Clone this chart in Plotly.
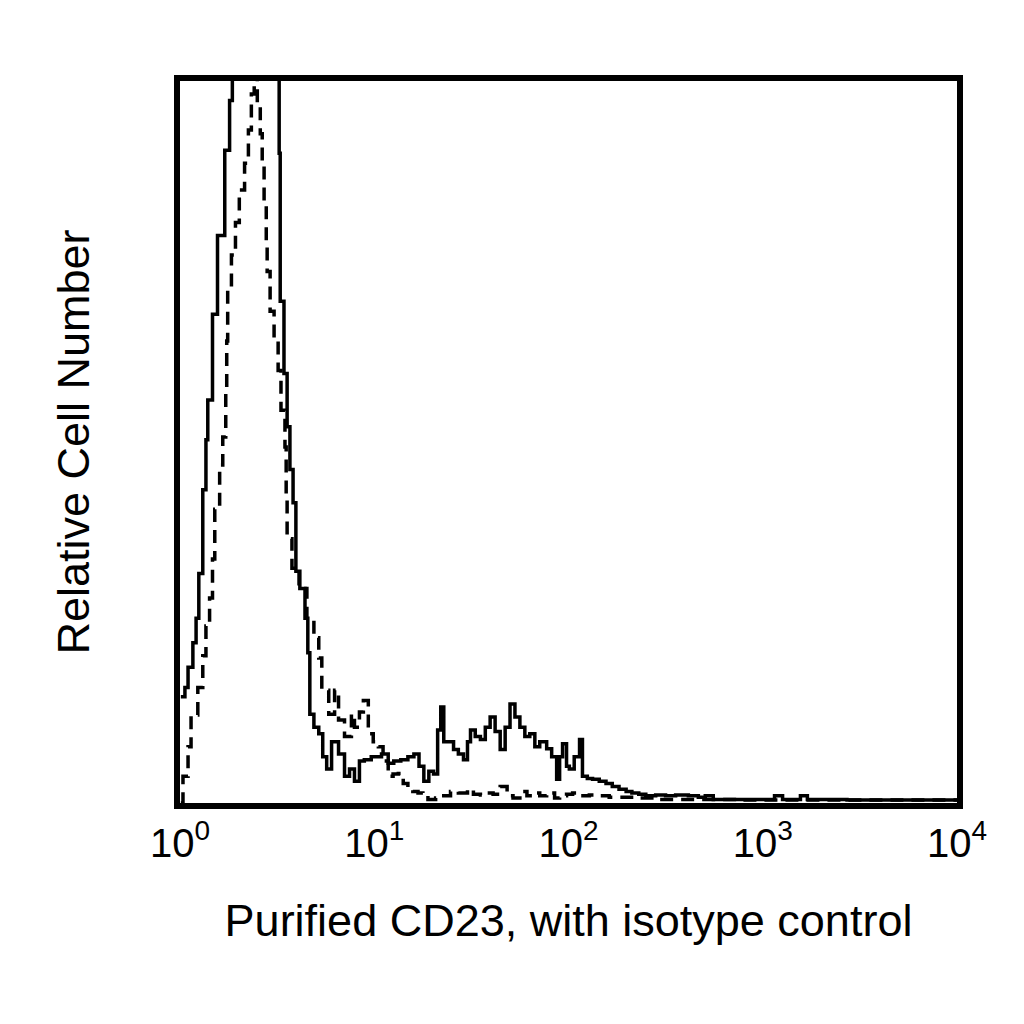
import plotly.graph_objects as go

# CD23 stained cells (solid) - fluorescence intensity vs relative count
cd23_intensity = [1.01, 1.06, 1.10, 1.165, 1.21, 1.25, 1.31, 1.36, 1.39, 1.47, 1.56, 1.70, 1.80, 1.86, 1.98,
                  2.36, 2.81, 3.05, 3.24, 3.28, 3.43, 3.56, 3.68, 3.82, 3.95, 4.14, 4.40, 4.55, 4.66, 4.89,
                  5.18, 5.43, 5.69, 6.03, 6.55, 7.03, 7.46, 7.91, 8.39, 8.89, 9.65, 10.9, 11.8, 12.6, 13.7,
                  14.9, 16.0, 17.0, 18.0, 19.1, 20.2, 21.2, 22.0, 22.8, 24.1, 25.6, 27.1, 28.8, 30.2, 31.3,
                  33.1, 35.2, 37.3, 39.5, 41.9, 44.5, 47.2, 50.0, 53.0, 56.2, 59.6, 63.2, 67.1, 71.1, 77.2,
                  81.9, 86.9, 90.0, 93.2, 97.7, 101, 107, 114, 118, 125, 133, 144, 156, 168, 182,
                  198, 212, 230, 250, 281, 316, 356, 414, 466, 506, 556, 746, 1060, 1150, 1265,
                  1563, 1697, 2715, 4885, 10000]
cd23_count = [14.7, 16.0, 18.8, 22.2, 25.6, 31.8, 43.4, 50.3, 55.8, 67.7, 78.6, 90.4, 97.3, 102.3, 105,
              106.4, 105, 102.3, 90, 69.5, 59.5, 52.1, 46.2, 41.6, 32.1, 29.7, 25.6, 20.8, 12.3, 10.5,
              9.6, 6.4, 4.7, 8.5, 6.8, 3.7, 4.7, 3.0, 5.8, 6.0, 6.4, 6.8, 5.5, 5.8, 6.0,
              6.4, 6.8, 5.1, 3.0, 4.4, 4.0, 10.1, 13.3, 8.5, 8.5, 7.4, 6.8, 6.0, 8.5, 10.1,
              9.2, 8.8, 10.5, 11.9, 9.9, 7.4, 10.5, 13.7, 11.9, 10.5, 9.2, 9.6, 7.8, 8.5, 7.5,
              6.4, 3.3, 6.4, 8.2, 5.1, 4.7, 6.4, 8.8, 3.7, 3.4, 3.3, 3.0, 2.7, 2.3, 1.9,
              1.6, 1.4, 1.2, 1.0, 1.1, 1.0, 1.1, 1.0, 0.8, 1.0, 0.5, 0.5, 0.5, 1.0, 0.5,
              1.0, 0.5, 0.4, 0.4, 0.4]

# isotype control (dashed)
iso_intensity = [1.01, 1.036, 1.10, 1.14, 1.235, 1.31, 1.36, 1.42, 1.47, 1.51, 1.60, 1.66, 1.72, 1.74, 1.76,
                 1.84, 1.93, 2.02, 2.15, 2.25, 2.33, 2.41, 2.50, 2.59, 2.65, 2.71, 2.78, 2.81, 2.91, 3.05,
                 3.20, 3.31, 3.47, 3.52, 3.56, 3.77, 4.10, 4.50, 4.89, 5.18, 5.37, 5.83, 6.25, 6.55, 7.03,
                 7.63, 7.91, 8.39, 8.79, 9.32, 9.88, 10.5, 11.1, 11.8, 12.5, 13.3, 14.1, 14.9, 15.8, 16.8,
                 17.8, 18.9, 20.7, 22.8, 24.7, 27.1, 30.2, 32.4, 35.2, 38.2, 40.9, 44.5, 48.3, 51.8, 56.2,
                 61.1, 65.5, 71.1, 77.2, 84.8, 90.0, 97.7, 105, 114, 128, 144, 162, 182, 230, 291,
                 373, 506, 746, 1509, 10000]
iso_count = [0, 3.7, 7.8, 12.2, 16.0, 20.4, 24.5, 28.4, 33.8, 40.7, 46.8, 50.7, 57.5, 64.0, 71.2,
             75.9, 80.4, 84.9, 88.6, 93.2, 98.2, 102.3, 96.8, 92.7, 88.6, 83.2, 77.7, 73.6, 68.1, 64.0,
             59.9, 54.4, 49.3, 42.1, 36.6, 32.5, 29.7, 25.6, 22.9, 20.1, 15.6, 12.3, 15.6, 11.5, 9.2,
             12.3, 10.5, 12.6, 14.2, 9.6, 8.5, 7.8, 5.8, 3.7, 4.0, 4.1, 2.7, 1.9, 1.6, 1.4,
             1.0, 0.5, 0.7, 1.0, 1.6, 1.4, 1.9, 1.2, 1.1, 1.4, 1.2, 2.3, 1.0, 0.7, 1.6,
             1.0, 1.4, 1.0, 1.4, 0.7, 1.0, 1.2, 1.4, 1.0, 1.1, 1.0, 0.8, 0.8, 0.7, 0.5,
             0.5, 0.5, 0.4, 0.4, 0.3]

tick_vals = [1, 10, 100, 1000, 10000]
tick_text = ['10<sup>0</sup>', '10<sup>1</sup>', '10<sup>2</sup>', '10<sup>3</sup>', '10<sup>4</sup>']

fig = go.Figure()
fig.add_trace(go.Scatter(x=iso_intensity, y=iso_count, mode='lines', line_shape='hv',
                         line=dict(color='black', width=3.5, dash='13px,8px'), name='isotype control'))
fig.add_trace(go.Scatter(x=cd23_intensity, y=cd23_count, mode='lines', line_shape='hv',
                         line=dict(color='black', width=3.5), name='CD23'))

fig.update_xaxes(type='log', range=[0, 4], tickvals=tick_vals, ticktext=tick_text, ticks='',
                 showgrid=False, zeroline=False, showline=True, linecolor='black', linewidth=6, mirror=True,
                 tickfont=dict(size=40, color='black'),
                 title=dict(text='Purified CD23, with isotype control', font=dict(size=45, color='black'),
                            standoff=42))
fig.update_yaxes(range=[0, 100], showticklabels=False, ticks='', showgrid=False, zeroline=False,
                 showline=True, linecolor='black', linewidth=6, mirror=True,
                 title=dict(text='Relative Cell Number', font=dict(size=45, color='black'), standoff=72))
# page body adds ~8px offset, margins account for it
fig.update_layout(width=1024, height=1024, showlegend=False,
                  margin=dict(l=172, r=75, t=73, b=229),
                  paper_bgcolor='white', plot_bgcolor='white',
                  font=dict(family='Liberation Sans, Arial, sans-serif', color='black'))
fig.write_html("out.html")
